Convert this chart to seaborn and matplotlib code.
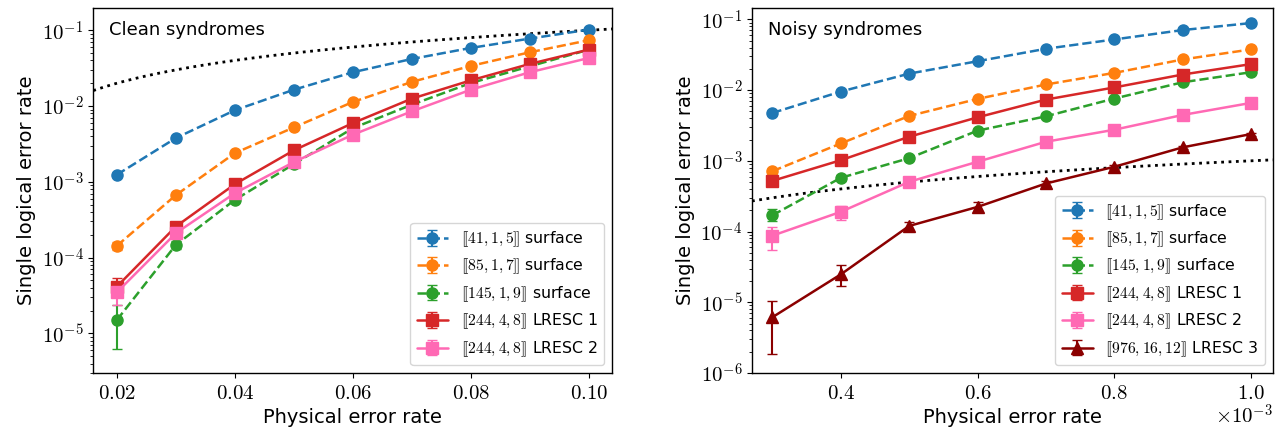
import numpy as np
import matplotlib
matplotlib.use("Agg")
import matplotlib.pyplot as plt
import seaborn as sns
from matplotlib.ticker import FuncFormatter, FixedLocator

sns.set_style("ticks")
plt.rcParams["font.family"] = ["DejaVu Sans"]
plt.rcParams["mathtext.fontset"] = "cm"
plt.rcParams.update({"axes.edgecolor": "black", "text.color": "black",
                     "axes.labelcolor": "black", "xtick.color": "black",
                     "ytick.color": "black"})

# ---- clean syndromes (left panel) ----
p_clean = [0.02, 0.03, 0.04, 0.05, 0.06, 0.07, 0.08, 0.09, 0.10]
clean_s5 = [1.24e-3, 3.78e-3, 8.8e-3, 0.0164, 0.0279, 0.0418, 0.0584, 0.0776, 0.102]
clean_s7 = [1.43e-4, 6.67e-4, 2.39e-3, 5.22e-3, 0.0113, 0.0208, 0.0338, 0.0512, 0.0738]
clean_s9 = [1.5e-5, 1.47e-4, 5.78e-4, 1.71e-3, 5.1e-3, 0.0104, 0.0201, 0.0334, 0.0554]
clean_l1 = [4.14e-5, 2.57e-4, 9.3e-4, 2.6e-3, 5.95e-3, 0.0125, 0.0218, 0.0359, 0.0555]
clean_l2 = [3.48e-5, 2.1e-4, 7.08e-4, 1.82e-3, 4.18e-3, 8.5e-3, 0.0164, 0.0279, 0.043]
# error bar half-widths (lower, upper)
clean_s5_err = [[6e-5, 1e-4, 1.5e-4, 2e-4, 3e-4, 3e-4, 4e-4, 4e-4, 5e-4],
                [6e-5, 1e-4, 1.5e-4, 2e-4, 3e-4, 3e-4, 4e-4, 4e-4, 5e-4]]
clean_s7_err = [[1.8e-5, 3e-5, 6e-5, 1e-4, 1.5e-4, 2e-4, 3e-4, 3e-4, 4e-4],
                [1.8e-5, 3e-5, 6e-5, 1e-4, 1.5e-4, 2e-4, 3e-4, 3e-4, 4e-4]]
clean_s9_err = [[8.7e-6, 1.7e-5, 3e-5, 5e-5, 1e-4, 1.5e-4, 2e-4, 3e-4, 4e-4],
                [9e-6, 1.7e-5, 3e-5, 5e-5, 1e-4, 1.5e-4, 2e-4, 3e-4, 4e-4]]
clean_l1_err = [[1.1e-5, 2e-5, 4e-5, 6e-5, 1e-4, 1.5e-4, 2e-4, 3e-4, 4e-4],
                [1.3e-5, 2e-5, 4e-5, 6e-5, 1e-4, 1.5e-4, 2e-4, 3e-4, 4e-4]]
clean_l2_err = [[1.1e-5, 2e-5, 4e-5, 6e-5, 1e-4, 1.5e-4, 2e-4, 3e-4, 4e-4],
                [1.0e-5, 2e-5, 4e-5, 6e-5, 1e-4, 1.5e-4, 2e-4, 3e-4, 4e-4]]

# ---- noisy syndromes (right panel), p in units of 1e-3 ----
p_noisy = [0.3, 0.4, 0.5, 0.6, 0.7, 0.8, 0.9, 1.0]
noisy_s5 = [4.75e-3, 9.53e-3, 0.0171, 0.0256, 0.0384, 0.052, 0.0706, 0.0887]
noisy_s7 = [7.14e-4, 1.76e-3, 4.31e-3, 7.5e-3, 0.012, 0.0175, 0.0271, 0.0376]
noisy_s9 = [1.7e-4, 5.75e-4, 1.09e-3, 2.67e-3, 4.26e-3, 7.59e-3, 0.0129, 0.0179]
noisy_l1 = [5.21e-4, 1.02e-3, 2.19e-3, 4.12e-3, 7.34e-3, 0.0109, 0.0166, 0.0233]
noisy_l2 = [8.75e-5, 1.9e-4, 5.05e-4, 9.7e-4, 1.86e-3, 2.75e-3, 4.45e-3, 6.59e-3]
noisy_l3 = [6.15e-6, 2.48e-5, 1.2e-4, 2.23e-4, 4.78e-4, 8.24e-4, 1.55e-3, 2.39e-3]
noisy_s5_err = [[1.5e-4, 2e-4, 3e-4, 4e-4, 5e-4, 6e-4, 7e-4, 8e-4],
                [1.5e-4, 2e-4, 3e-4, 4e-4, 5e-4, 6e-4, 7e-4, 8e-4]]
noisy_s7_err = [[5e-5, 8e-5, 1.3e-4, 2e-4, 2.5e-4, 3e-4, 4e-4, 5e-4],
                [5e-5, 8e-5, 1.3e-4, 2e-4, 2.5e-4, 3e-4, 4e-4, 5e-4]]
noisy_s9_err = [[3e-5, 5e-5, 7e-5, 1.2e-4, 1.5e-4, 2e-4, 3e-4, 3e-4],
                [3.5e-5, 5e-5, 7e-5, 1.2e-4, 1.5e-4, 2e-4, 3e-4, 3e-4]]
noisy_l1_err = [[4e-5, 6e-5, 1e-4, 1.5e-4, 2e-4, 2.5e-4, 3e-4, 4e-4],
                [4e-5, 6e-5, 1e-4, 1.5e-4, 2e-4, 2.5e-4, 3e-4, 4e-4]]
noisy_l2_err = [[3.2e-5, 4.5e-5, 4e-5, 6e-5, 9e-5, 1e-4, 1.5e-4, 2e-4],
                [2.9e-5, 4e-5, 4e-5, 6e-5, 9e-5, 1e-4, 1.5e-4, 2e-4]]
noisy_l3_err = [[4.3e-6, 7.8e-6, 1.5e-5, 3e-5, 4e-5, 6e-5, 9e-5, 1.2e-4],
                [4.4e-6, 9.2e-6, 1.8e-5, 3.5e-5, 4e-5, 6e-5, 9e-5, 1.2e-4]]

labels = [r"$[\![41,1,5]\!]$ surface", r"$[\![85,1,7]\!]$ surface",
          r"$[\![145,1,9]\!]$ surface", r"$[\![244,4,8]\!]$ LRESC 1",
          r"$[\![244,4,8]\!]$ LRESC 2", r"$[\![976,16,12]\!]$ LRESC 3"]

pal = sns.color_palette("tab10")
colors = [pal[0], pal[1], pal[2], pal[3], "hotpink", "darkred"]
markers = ["o", "o", "o", "s", "s", "^"]
styles = ["--", "--", "--", "-", "-", "-"]

fig = plt.figure(figsize=(12.76, 4.32), dpi=100)
ax1 = fig.add_axes([0.0731, 0.1366, 0.4067, 0.845])
ax2 = fig.add_axes([0.5893, 0.1366, 0.4083, 0.845])

clean = [(clean_s5, clean_s5_err), (clean_s7, clean_s7_err), (clean_s9, clean_s9_err),
         (clean_l1, clean_l1_err), (clean_l2, clean_l2_err)]
noisy = [(noisy_s5, noisy_s5_err), (noisy_s7, noisy_s7_err), (noisy_s9, noisy_s9_err),
         (noisy_l1, noisy_l1_err), (noisy_l2, noisy_l2_err), (noisy_l3, noisy_l3_err)]

for ax, xs, series in [(ax1, p_clean, clean), (ax2, p_noisy, noisy)]:
    for i, (ys, err) in enumerate(series):
        ax.errorbar(xs, ys, yerr=err, color=colors[i], marker=markers[i],
                    ls=styles[i], lw=1.8, ms=8, capsize=3.5, elinewidth=1.5,
                    label=labels[i])

# reference line: logical rate equal to physical rate
ax1.set_xlim(0.016, 0.104)
ref1 = np.linspace(0.016, 0.104, 50)
sns.lineplot(x=ref1, y=ref1, ax=ax1, color="black", ls=":", lw=2)
ax2.set_xlim(0.27, 1.032)
ref2 = np.linspace(0.27, 1.032, 50)
sns.lineplot(x=ref2, y=ref2 * 1e-3, ax=ax2, color="black", ls=":", lw=2)

ax1.set_ylim(3.0e-6, 0.197)
ax2.set_ylim(1e-6, 0.145)

logfmt = FuncFormatter(lambda v, pos: r"$10^{%d}$" % round(np.log10(v)))
for ax in (ax1, ax2):
    ax.set_yscale("log")
    ax.yaxis.set_major_formatter(logfmt)
    ax.tick_params(labelsize=15)
    ax.set_xlabel("Physical error rate", fontsize=14)
    ax.set_ylabel("Single logical error rate", fontsize=14)
    for s in ax.spines.values():
        s.set_visible(True)
        s.set_linewidth(1.0)

ax1.xaxis.set_major_locator(FixedLocator([0.02, 0.04, 0.06, 0.08, 0.10]))
ax1.xaxis.set_major_formatter(FuncFormatter(lambda v, pos: r"$%.2f$" % v))
ax2.xaxis.set_major_locator(FixedLocator([0.4, 0.6, 0.8, 1.0]))
ax2.xaxis.set_major_formatter(FuncFormatter(lambda v, pos: r"$%.1f$" % v))
ax2.text(1.0, -0.085, r"$\times10^{-3}$", transform=ax2.transAxes,
         ha="right", va="top", fontsize=15)

ax1.text(0.03, 0.965, "Clean syndromes", transform=ax1.transAxes,
         ha="left", va="top", fontsize=13)
ax2.text(0.03, 0.965, "Noisy syndromes", transform=ax2.transAxes,
         ha="left", va="top", fontsize=13)

ax1.legend(loc="lower right", fontsize=11.3)
ax2.legend(loc="lower right", fontsize=11.3)

fig.savefig("out.png", dpi=100)
